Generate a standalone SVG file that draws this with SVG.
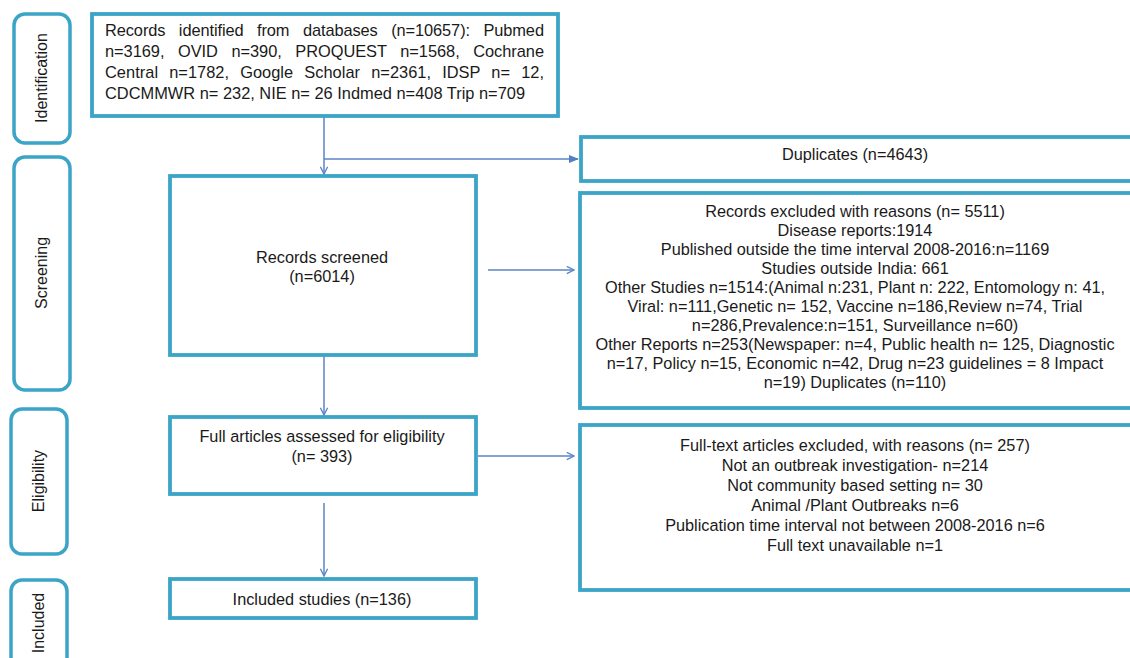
<svg xmlns="http://www.w3.org/2000/svg" width="1130" height="658" viewBox="0 0 1130 658">
<defs>
<style>
.box{fill:#fff;stroke:#3ba4c7;stroke-width:3.8}
.side{fill:#fff;stroke:#3ba4c7;stroke-width:3.5}
.t{font-family:"Liberation Sans",Arial,sans-serif;font-size:16.3px;fill:#1a1a1a}
.tl{font-family:"Liberation Sans",Arial,sans-serif;font-size:16.4px;fill:#1a1a1a}
.c{text-anchor:middle}
.lab{font-family:"Liberation Sans",Arial,sans-serif;font-size:16px;fill:#1a1a1a;text-anchor:middle}
.con{fill:none;stroke:#5b85c6;stroke-width:1.5}
</style>
<marker id="ah" viewBox="0 0 10 10" refX="9" refY="5" markerWidth="9" markerHeight="9" markerUnits="userSpaceOnUse" orient="auto">
<path d="M1,1 L9,5 L1,9" fill="none" stroke="#5b85c6" stroke-width="1.5"/>
</marker>
<marker id="af" viewBox="0 0 10 10" refX="9" refY="5" markerWidth="10" markerHeight="10" markerUnits="userSpaceOnUse" orient="auto">
<path d="M0,1 L10,5 L0,9 Z" fill="#4f7fc4"/>
</marker>
</defs>

<g id="phase-identification">
<rect class="side" x="14" y="14" width="56" height="129" rx="11"/>
<text class="lab" transform="translate(47,78) rotate(-90)">Identification</text>
</g>
<g id="phase-screening">
<rect class="side" x="14" y="157" width="56" height="233" rx="11"/>
<text class="lab" transform="translate(47,273) rotate(-90)">Screening</text>
</g>
<g id="phase-eligibility">
<rect class="side" x="11" y="409" width="56" height="145" rx="11"/>
<text class="lab" transform="translate(44,481) rotate(-90)">Eligibility</text>
</g>
<g id="phase-included">
<rect class="side" x="11" y="580" width="56" height="100" rx="11"/>
<text class="lab" transform="translate(44,623) rotate(-90)">Included</text>
</g>

<g id="connectors">
<line class="con" x1="324" y1="116" x2="324" y2="174" marker-end="url(#ah)"/>
<line class="con" x1="324" y1="159" x2="578" y2="159" marker-end="url(#af)"/>
<line class="con" x1="488" y1="270" x2="574" y2="270" marker-end="url(#ah)"/>
<line class="con" x1="324" y1="356" x2="324" y2="415" marker-end="url(#ah)"/>
<line class="con" x1="478" y1="456" x2="574" y2="456" marker-end="url(#ah)"/>
<line class="con" x1="324" y1="503" x2="324" y2="576" marker-end="url(#ah)"/>
</g>

<g id="records-identified">
<rect class="box" x="92" y="14" width="466" height="102"/>
<text class="tl" x="105" y="36" textLength="439" lengthAdjust="spacing" word-spacing="9">Records identified from databases (n=10657): Pubmed</text>
<text class="tl" x="105" y="57" textLength="439" lengthAdjust="spacing" word-spacing="9">n=3169, OVID n=390, PROQUEST n=1568, Cochrane</text>
<text class="tl" x="105" y="78" textLength="439" lengthAdjust="spacing" word-spacing="6.5">Central n=1782, Google Scholar n=2361, IDSP n= 12,</text>
<text class="tl" x="105" y="99">CDCMMWR n= 232, NIE n= 26 Indmed n=408 Trip n=709</text>
</g>

<g id="duplicates">
<rect class="box" x="581" y="137" width="555" height="44"/>
<text class="t c" x="855" y="160">Duplicates (n=4643)</text>
</g>

<g id="records-screened">
<rect class="box" x="170" y="176" width="306" height="179"/>
<text class="t c" x="322" y="263">Records screened</text>
<text class="t c" x="322" y="282">(n=6014)</text>
</g>

<g id="records-excluded">
<rect class="box" x="580" y="193" width="556" height="215"/>
<text class="t c" x="855" y="217">Records excluded with reasons (n= 5511)</text>
<text class="t c" x="855" y="236">Disease reports:1914</text>
<text class="t c" x="855" y="255">Published outside the time interval 2008-2016:n=1169</text>
<text class="t c" x="855" y="274">Studies outside India: 661</text>
<text class="t c" x="855" y="293">Other Studies n=1514:(Animal n:231, Plant n: 222, Entomology n: 41,</text>
<text class="t c" x="855" y="312">Viral: n=111,Genetic n= 152, Vaccine n=186,Review n=74, Trial</text>
<text class="t c" x="855" y="331">n=286,Prevalence:n=151, Surveillance n=60)</text>
<text class="t c" x="855" y="350">Other Reports n=253(Newspaper: n=4, Public health n= 125, Diagnostic</text>
<text class="t c" x="855" y="369">n=17, Policy n=15, Economic n=42, Drug n=23 guidelines = 8 Impact</text>
<text class="t c" x="855" y="388">n=19) Duplicates (n=110)</text>
</g>

<g id="full-articles">
<rect class="box" x="170" y="417" width="306" height="77"/>
<text class="t c" x="322" y="442">Full articles assessed for eligibility</text>
<text class="t c" x="322" y="462">(n= 393)</text>
</g>

<g id="fulltext-excluded">
<rect class="box" x="580" y="425" width="556" height="165"/>
<text class="t c" x="855" y="451">Full-text articles excluded, with reasons (n= 257)</text>
<text class="t c" x="855" y="471">Not an outbreak investigation- n=214</text>
<text class="t c" x="855" y="491">Not community based setting n= 30</text>
<text class="t c" x="855" y="511">Animal /Plant Outbreaks n=6</text>
<text class="t c" x="855" y="531">Publication time interval not between 2008-2016 n=6</text>
<text class="t c" x="855" y="551">Full text unavailable n=1</text>
</g>

<g id="included-studies">
<rect class="box" x="170" y="579" width="306" height="39"/>
<text class="t c" x="322" y="605">Included studies (n=136)</text>
</g>
</svg>
